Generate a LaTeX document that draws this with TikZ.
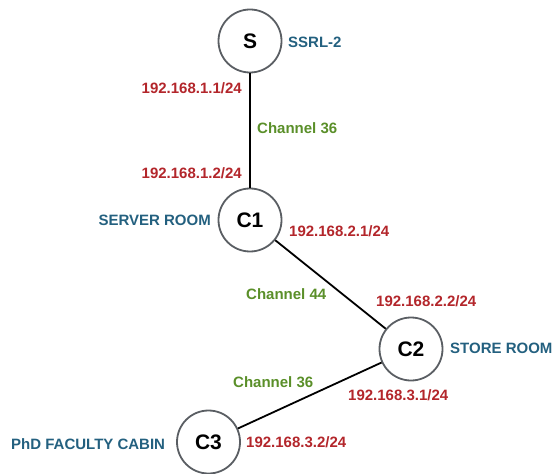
\documentclass[tikz,border=0pt]{standalone}
\usepackage{fontspec}
\setmainfont{Liberation Sans}
\definecolor{ipred}{HTML}{B3262B}
\definecolor{chgreen}{HTML}{5A8F29}
\definecolor{roomblue}{HTML}{23607F}
\definecolor{ringgray}{HTML}{5A5E63}
\begin{document}
\begin{tikzpicture}[x=1bp,y=-1bp,
  hub/.style={circle, draw=ringgray, line width=1.8bp, fill=white, minimum size=63bp, inner sep=0pt,
    font=\fontsize{21bp}{24bp}\selectfont\bfseries},
  link/.style={line width=1.8bp, black},
  ip/.style={text=ipred, inner sep=0pt, font=\fontsize{15bp}{18bp}\selectfont\bfseries},
  chan/.style={text=chgreen, inner sep=0pt, font=\fontsize{15bp}{18bp}\selectfont\bfseries},
  room/.style={text=roomblue, inner sep=0pt, font=\fontsize{15bp}{18bp}\selectfont\bfseries}]
\useasboundingbox (0,0) rectangle (552,474);
\node[hub] (S) at (250,41) {S};
\node[hub] (C1) at (250,220) {C1};
\node[hub] (C2) at (411,349) {C2};
\node[hub] (C3) at (208.5,442) {C3};
\draw[link] (S) -- (C1);
\draw[link] (C1) -- (C2);
\draw[link] (C2) -- (C3);
\node[room, anchor=base west] (lS) at (288,47.4) {SSRL-2};
\node[ip, anchor=base east] (ip1) at (242,93.4) {192.168.1.1/24};
\node[chan, anchor=base west] (ch1) at (257,133.4) {Channel 36};
\node[ip, anchor=base east] (ip2) at (242,178.4) {192.168.1.2/24};
\node[room, anchor=base east] (lC1) at (211,225.4) {SERVER ROOM};
\node[ip, anchor=base west] (ip3) at (289,236.4) {192.168.2.1/24};
\node[chan, anchor=base west] (ch2) at (246,299.4) {Channel 44};
\node[ip, anchor=base west] (ip4) at (376,306.4) {192.168.2.2/24};
\node[room, anchor=base west] (lC2) at (450,353.4) {STORE ROOM};
\node[chan, anchor=base west] (ch3) at (233,387.4) {Channel 36};
\node[ip, anchor=base west] (ip5) at (348,400.4) {192.168.3.1/24};
\node[room, anchor=base west] (lC3) at (11,449.4) {PhD FACULTY CABIN};
\node[ip, anchor=base west] (ip6) at (246,447.4) {192.168.3.2/24};
\end{tikzpicture}
\end{document}
